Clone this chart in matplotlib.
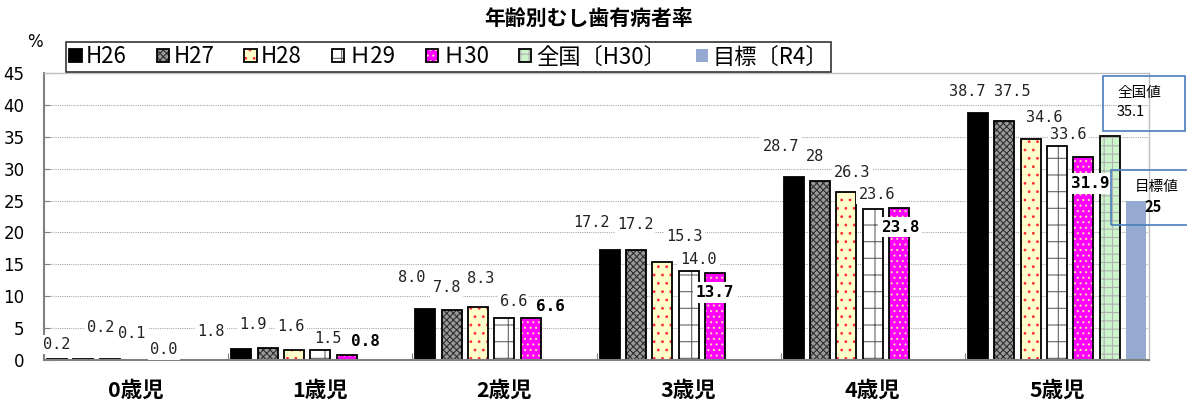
import numpy as np
import matplotlib
matplotlib.use("Agg")
import matplotlib.pyplot as plt
from matplotlib.patches import Rectangle
from matplotlib.legend_handler import HandlerTuple

plt.rcParams['font.family'] = ['Noto Sans CJK JP', 'DejaVu Sans']
plt.rcParams['hatch.linewidth'] = 0.8

# === DATA ===
categories = ["0歳児", "1歳児", "2歳児", "3歳児", "4歳児", "5歳児"]
series_names = ["H26", "H27", "H28", "Ｈ29", "Ｈ30", "全国〔H30〕", "目標〔R4〕"]

h26 = [0.2, 1.8, 8.0, 17.2, 28.7, 38.7]
h27 = [0.2, 1.9, 7.8, 17.2, 28.0, 37.5]
h28 = [0.1, 1.6, 8.3, 15.3, 26.3, 34.6]
h29 = [0.0, 1.5, 6.6, 14.0, 23.6, 33.6]
h30 = [np.nan, 0.8, 6.6, 13.7, 23.8, 31.9]
zenkoku = [np.nan, np.nan, np.nan, np.nan, np.nan, 35.1]
mokuhyo = [np.nan, np.nan, np.nan, np.nan, np.nan, 25.0]

h26_txt = ["0.2", "1.8", "8.0", "17.2", "28.7", "38.7"]
h27_txt = ["0.2", "1.9", "7.8", "17.2", "28", "37.5"]
h28_txt = ["0.1", "1.6", "8.3", "15.3", "26.3", "34.6"]
h29_txt = ["0.0", "1.5", "6.6", "14.0", "23.6", "33.6"]
h30_txt = ["", "0.8", "6.6", "13.7", "23.8", "31.9"]

all_vals = [h26, h27, h28, h29, h30, zenkoku, mokuhyo]
all_txt = [h26_txt, h27_txt, h28_txt, h29_txt, h30_txt]

# label offsets in pixels (dx, dy) from bar top, as placed in the original
label_off = [
    [(0, 14), (-30, 17), (-14, 31), (-18, 28), (-13, 30), (-11, 22)],
    [(17, 31), (-15, 23), (-5, 23), (-1, 26), (-5, 25), (8, 29)],
    [(22, 26), (-3, 23), (3, 29), (22, 26), (6, 20), (14, 22)],
    [(28, 10), (8, 12), (9, 16), (10, 11), (4, 15), (11, 11)],
    [(0, 0), (19, 13), (20, 11), (0, -20), (1, -19), (7, -27)],
]

# === STYLES ===
faces = ["black", "#9a9a9a", "#ffffcc", "white", "#ff00ff", "#ccf5cc", "#95a9d1"]
hatches = [None, "xxxxx", "..", "+", "...", "++", None]
hatch_cols = ["black", "#303030", "#ff3030", "#666666", "#ffd8b0", "#b0b0b0", "#95a9d1"]

W, H = 1187, 403
fig = plt.figure(figsize=(W / 100, H / 100), dpi=100)
ax = fig.add_axes([44 / W, (H - 360) / H, (1149 - 44) / W, (360 - 73) / H])

n_slots = 7
slot = 1.0 / n_slots
bar_w = slot * 0.76
xg = np.arange(len(categories))

handles = []
for k, vals in enumerate(all_vals):
    x = xg - 0.5 + (k + 0.5) * slot
    fill = ax.bar(x, vals, bar_w, color=faces[k], hatch=hatches[k],
                  edgecolor=hatch_cols[k], linewidth=0, zorder=3)
    if k < 6:
        outline = ax.bar(x, vals, bar_w, fill=False, edgecolor="black",
                         linewidth=1.3, zorder=4)
        handles.append((fill.patches[-1], outline.patches[-1]))
    else:
        handles.append(fill.patches[-1])

    if k < 5:
        for i, v in enumerate(vals):
            t = all_txt[k][i]
            if not t:
                continue
            dx, dy = label_off[k][i]
            if k == 4:
                ax.annotate(t, xy=(x[i], v), xytext=(dx, dy), textcoords="offset pixels",
                            ha="center", va="center", fontsize=11.5, fontweight="bold",
                            family="DejaVu Sans Mono", zorder=6,
                            bbox=dict(fc="white", ec="none", pad=2))
            else:
                ax.annotate(t, xy=(x[i], v), xytext=(dx, dy), textcoords="offset pixels",
                            ha="center", va="center", fontsize=11, color="#222222",
                            family="DejaVu Sans Mono", zorder=6,
                            bbox=dict(fc="white", ec="none", pad=1.5))

ax.set_xlim(-0.5, len(categories) - 0.5)
ax.set_ylim(0, 45)
ax.set_yticks(np.arange(0, 46, 5))
ax.tick_params(axis="y", direction="in", length=4, color="#808080", labelsize=12, pad=14)
for lab in ax.get_yticklabels():
    lab.set_family("DejaVu Sans")

ax.set_xticks(np.arange(0.5, len(categories) - 0.5, 1))
ax.set_xticklabels([])
ax.tick_params(axis="x", which="major", direction="in", length=5, color="#808080")
ax.set_xticks(xg, minor=True)
ax.set_xticklabels(categories, minor=True, fontsize=15.5, fontweight="bold")
ax.tick_params(axis="x", which="minor", length=0, pad=14)

for yv in range(5, 45, 5):
    ax.axhline(yv, color="#a8a8a8", lw=0.8, ls=(0, (1, 1)), zorder=1)

ax.spines["left"].set_color("#808080")
ax.spines["left"].set_linewidth(1.5)
ax.spines["bottom"].set_color("#808080")
ax.spines["bottom"].set_linewidth(1.5)
ax.spines["bottom"].set_zorder(5)
ax.spines["top"].set_color("#c0c0c0")
ax.spines["right"].set_color("#c0c0c0")
ax.spines["top"].set_linewidth(1.0)
ax.spines["right"].set_linewidth(1.0)

# === TITLE, UNIT, LEGEND ===
fig.text(589 / W, 1 - 18 / H, "年齢別むし歯有病者率", ha="center", va="center",
         fontsize=15, fontweight="bold")
fig.text(35 / W, 1 - 42 / H, "%", ha="center", va="center", fontsize=12,
         family="DejaVu Sans")

leg = fig.legend(handles, series_names, loc="upper left",
                 bbox_to_anchor=(66 / W, 1 - 42 / H), ncol=7, frameon=True,
                 fancybox=False, edgecolor="black", fontsize=16,
                 handlelength=0.55, handleheight=0.55, handletextpad=0.2,
                 columnspacing=1.35, borderpad=0.15, borderaxespad=0,
                 handler_map={tuple: HandlerTuple(ndivide=1, pad=0)})
leg.get_frame().set_linewidth(1.2)


# === NOTE BOXES ===
def px_box(x0, y0, x1, y1):
    r = Rectangle((x0 / W, 1 - y1 / H), (x1 - x0) / W, (y1 - y0) / H,
                  transform=fig.transFigure, fill=False, edgecolor="#4a7ebb",
                  linewidth=1.2, zorder=10)
    fig.add_artist(r)


px_box(1103, 76, 1185, 131)
fig.text(1117 / W, 1 - 93 / H, "全国値", ha="left", va="center", fontsize=10.5)
fig.text(1117 / W, 1 - 112 / H, "35.1", ha="left", va="center", fontsize=10.5)

px_box(1111, 170, 1195, 225)
fig.text(1135 / W, 1 - 187 / H, "目標値", ha="left", va="center", fontsize=10.5)
fig.text(1153 / W, 1 - 207 / H, "25", ha="center", va="center", fontsize=10.5,
         fontweight="bold")

fig.savefig("out.png", dpi=100)
